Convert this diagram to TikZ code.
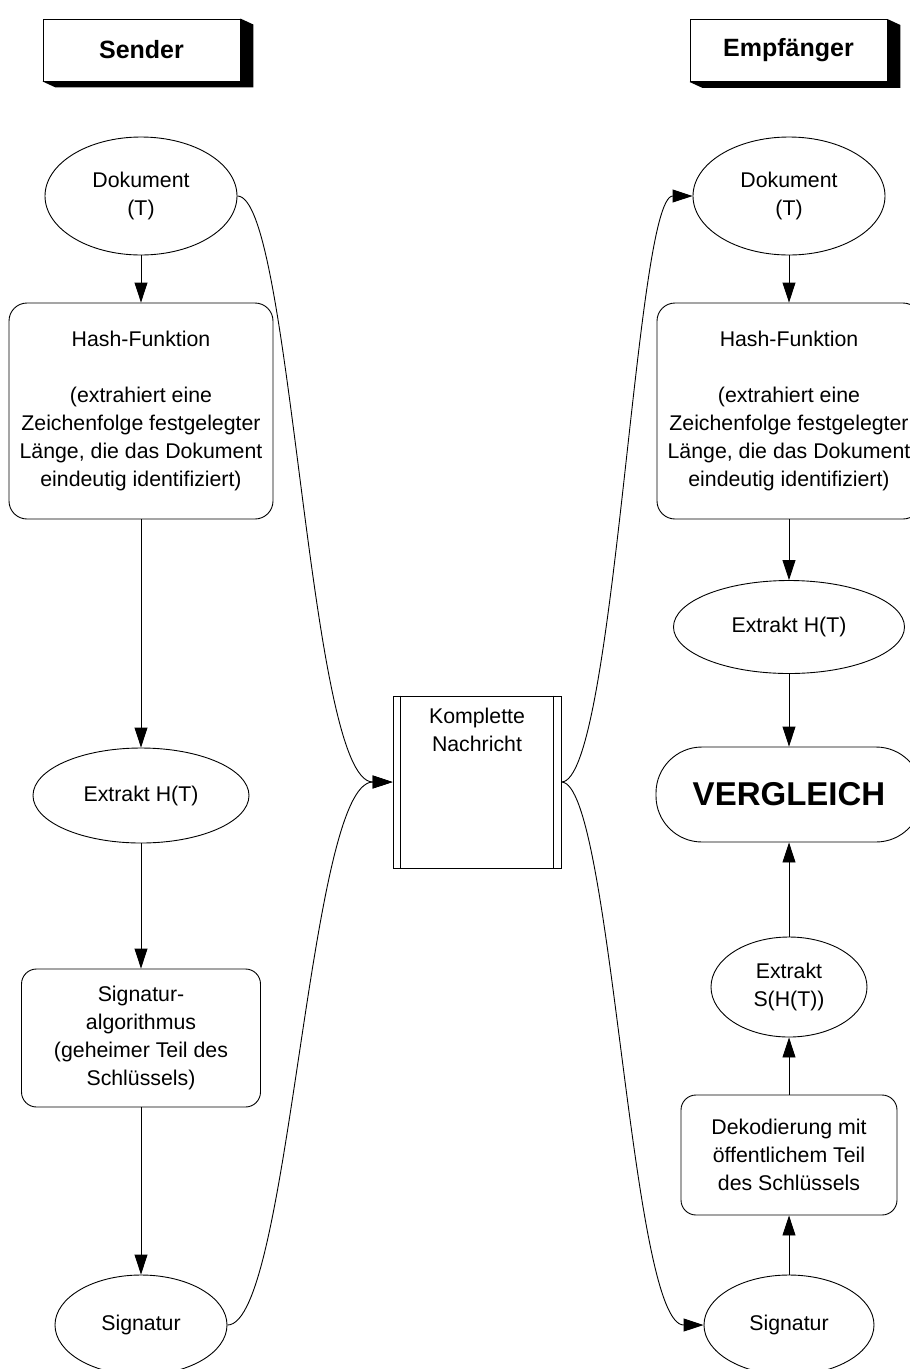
\documentclass[tikz,border=0pt]{standalone}
\usepackage{fontspec}
\setmainfont{Liberation Sans}
\usetikzlibrary{shapes.geometric,arrows.meta,positioning}

\tikzset{
  txt/.style={font=\fontsize{21.3}{28}\selectfont, align=center},
  oval/.style={txt, draw, ellipse, inner sep=0pt},
  roundbox/.style={txt, draw, rounded corners=18pt, inner sep=0pt},
  headbox/.style={draw, fill=white, font=\fontsize{25}{28}\selectfont\bfseries,
    minimum width=197pt, minimum height=62pt},
  pfeil/.style={-{Triangle[length=20pt,width=13pt]}},
}

\begin{document}
\begin{tikzpicture}[x=1pt,y=-1pt,line width=0.9pt]
  \useasboundingbox (0,0) rectangle (910,1369);
  \clip (0,0) rectangle (910,1369);
  % Kopfzeilen
  \node[headbox] (sender) at (141.5,50) {Sender};
  \node[headbox] (empf) at (788.5,50.5) {Empfänger};
  \fill (sender.north east) -- ++(13,6) -- ([shift={(13,6)}]sender.south east)
    -- ([shift={(13,6)}]sender.south west) -- (sender.south west) -- (sender.south east) -- cycle;
  \fill (empf.north east) -- ++(13,6) -- ([shift={(13,6)}]empf.south east)
    -- ([shift={(13,6)}]empf.south west) -- (empf.south west) -- (empf.south east) -- cycle;
  % Sender
  \node[oval, minimum width=192pt, minimum height=118pt] (dokL) at (141,196) {Dokument\\(T)};
  \node[roundbox, minimum width=264pt, minimum height=216pt] (hashL) at (141,411)
    {Hash-Funktion\\[28pt](extrahiert eine\\Zeichenfolge festgelegter\\Länge, die das Dokument\\eindeutig identifiziert)};
  \node[oval, minimum width=216pt, minimum height=95pt] (extL) at (141,795.5) {Extrakt H(T)};
  \node[roundbox, rounded corners=15pt, minimum width=239pt, minimum height=138pt] (sigalg) at (141,1038)
    {Signatur-\\algorithmus\\(geheimer Teil des\\Schlüssels)};
  \node[oval, minimum width=172pt, minimum height=100pt] (sigL) at (141,1325) {Signatur};
  % Nachricht
  \node[draw, minimum width=168pt, minimum height=172pt, inner sep=0pt] (nach) at (477,782) {};
  \draw ([xshift=8pt]nach.north west) -- ([xshift=8pt]nach.south west);
  \draw ([xshift=-8pt]nach.north east) -- ([xshift=-8pt]nach.south east);
  \node[txt, below=9pt of nach.north] (nachtxt) {Komplette\\Nachricht};
  % Empfaenger
  \node[oval, minimum width=192pt, minimum height=118pt] (dokR) at (789,196) {Dokument\\(T)};
  \node[roundbox, minimum width=264pt, minimum height=216pt] (hashR) at (789,411)
    {Hash-Funktion\\[28pt](extrahiert eine\\Zeichenfolge festgelegter\\Länge, die das Dokument\\eindeutig identifiziert)};
  \node[oval, minimum width=231pt, minimum height=93pt] (extR) at (789,627) {Extrakt H(T)};
  \node[draw, rounded corners=46pt, minimum width=266pt, minimum height=95pt,
    font=\fontsize{33}{38}\selectfont\bfseries] (vgl) at (789,794.5) {VERGLEICH};
  \node[oval, minimum width=156pt, minimum height=100pt] (extS) at (789,987) {Extrakt\\S(H(T))};
  \node[roundbox, rounded corners=15pt, minimum width=216pt, minimum height=120pt] (dekod) at (789,1155)
    {Dekodierung mit\\öffentlichem Teil\\des Schlüssels};
  \node[oval, minimum width=170pt, minimum height=100pt] (sigR) at (789,1325) {Signatur};
  % Pfeile
  \draw[pfeil] (dokL) -- (hashL);
  \draw[pfeil] (hashL) -- (extL);
  \draw[pfeil] (extL) -- (sigalg);
  \draw[pfeil] (sigalg) -- (sigL);
  \draw[pfeil] (dokR) -- (hashR);
  \draw[pfeil] (hashR) -- (extR);
  \draw[pfeil] (extR) -- (vgl);
  \draw[pfeil] (extS) -- (vgl);
  \draw[pfeil] (dekod) -- (extS);
  \draw[pfeil] (sigR) -- (dekod);
  \draw[pfeil] (dokL.east) .. controls (292,196) and (308,782) .. (nach.west);
  \draw[pfeil] (sigL.east) .. controls (290,1325) and (308,782) .. (nach.west);
  \draw[pfeil] (nach.east) .. controls (615,782) and (635,196) .. (dokR.west);
  \draw[pfeil] (nach.east) .. controls (612,782) and (630,1325) .. (sigR.west);
\end{tikzpicture}
\end{document}
